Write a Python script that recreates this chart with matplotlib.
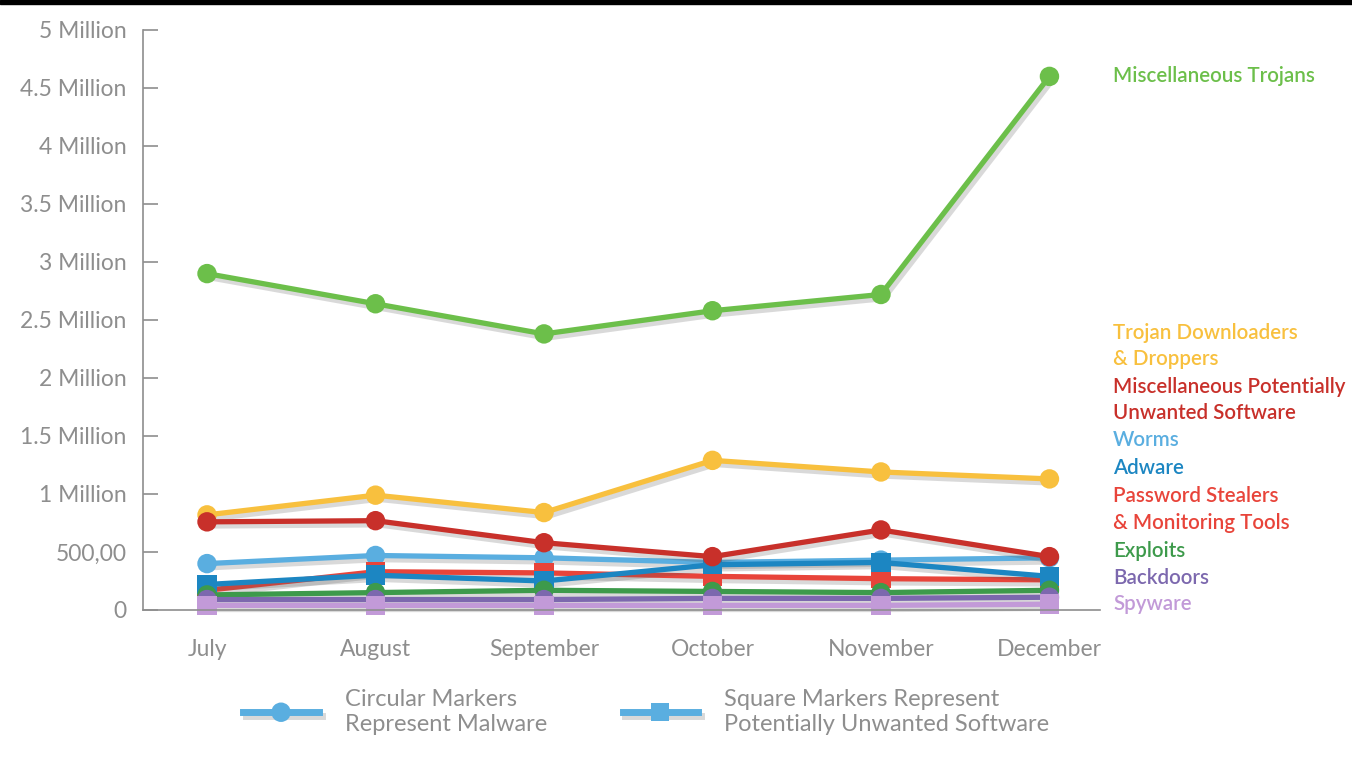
import matplotlib.pyplot as plt
import matplotlib.patheffects as pe
from matplotlib.lines import Line2D
from matplotlib.ticker import FixedLocator

months = ["July", "August", "September", "October", "November", "December"]

# values in millions
misc_trojans = [2.90, 2.64, 2.38, 2.58, 2.72, 4.60]
trojan_downloaders = [0.82, 0.99, 0.84, 1.29, 1.19, 1.13]
misc_pus = [0.76, 0.77, 0.58, 0.46, 0.69, 0.46]
worms = [0.40, 0.47, 0.45, 0.41, 0.43, 0.45]
adware = [0.22, 0.30, 0.25, 0.39, 0.41, 0.29]
password_stealers = [0.17, 0.33, 0.32, 0.29, 0.27, 0.26]
exploits = [0.13, 0.15, 0.17, 0.16, 0.15, 0.17]
backdoors = [0.09, 0.09, 0.09, 0.10, 0.10, 0.11]
spyware = [0.04, 0.04, 0.04, 0.04, 0.04, 0.05]

y_ticks = [0, 0.5, 1, 1.5, 2, 2.5, 3, 3.5, 4, 4.5, 5]
y_tick_labels = ["0", "500,00", "1 Million", "1.5 Million", "2 Million", "2.5 Million",
                 "3 Million", "3.5 Million", "4 Million", "4.5 Million", "5 Million"]

# (label, values, colour, marker) drawn in this order
series = [
    ("Worms", worms, "#5aaee0", "o"),
    ("Password Stealers", password_stealers, "#e8443a", "s"),
    ("Adware", adware, "#1c86c2", "s"),
    ("Exploits", exploits, "#3d9a4b", "o"),
    ("Backdoors", backdoors, "#7c68ae", "o"),
    ("Trojan Downloaders", trojan_downloaders, "#f8c03e", "o"),
    ("Miscellaneous PUS", misc_pus, "#c8302a", "o"),
    ("Spyware", spyware, "#c29ad8", "s"),
    ("Miscellaneous Trojans", misc_trojans, "#6cbf4a", "o"),
]

grey = "#8e8e8e"
plt.rcParams['font.family'] = ['Lato', 'DejaVu Sans']

fig = plt.figure(figsize=(13.52, 7.59), dpi=100)
fig.patch.set_facecolor("white")
ax = fig.add_axes([143 / 1352, 1 - 610 / 759, (1100 - 143) / 1352, 580 / 759])

x = list(range(len(months)))
shadow = [pe.SimpleLineShadow(offset=(2, -3), shadow_color="#555555", alpha=0.22), pe.Normal()]
for label, vals, color, marker in series:
    ax.plot(x, vals, color=color, lw=3.8, marker=marker, markersize=14,
            markeredgewidth=0, clip_on=False, path_effects=shadow)

ax.set_xlim(-0.38, 5.30)
ax.set_ylim(0, 5)
ax.set_xticks(x)
ax.set_xticklabels(months)
ax.yaxis.set_major_locator(FixedLocator(y_ticks))
ax.set_yticklabels(y_tick_labels)
ax.tick_params(axis="x", length=0, pad=21, labelsize=16.5, labelcolor=grey)
ax.tick_params(axis="y", direction="in", length=11, width=1.2, color=grey,
               pad=12, labelsize=16.5, labelcolor=grey)
for side in ["top", "right"]:
    ax.spines[side].set_visible(False)
ax.spines["left"].set_color(grey)
ax.spines["left"].set_linewidth(1.2)
ax.spines["bottom"].set_color(grey)
ax.spines["bottom"].set_linewidth(1.2)

# right-hand series labels
label_rows = [
    ("Miscellaneous Trojans", "#6cbf4a", 76),
    ("Trojan Downloaders", "#f8c03e", 333),
    ("& Droppers", "#f8c03e", 359),
    ("Miscellaneous Potentially", "#c8302a", 387),
    ("Unwanted Software", "#c8302a", 413),
    ("Worms", "#5aaee0", 440),
    ("Adware", "#1c86c2", 468),
    ("Password Stealers", "#e8443a", 496),
    ("& Monitoring Tools", "#e8443a", 523),
    ("Exploits", "#3d9a4b", 551),
    ("Backdoors", "#7c68ae", 578),
    ("Spyware", "#c29ad8", 604),
]
for txt, color, py in label_rows:
    fig.text(1113 / 1352, 1 - py / 759, txt, color=color, fontsize=14.8,
             fontweight="semibold", va="center", ha="left")

# marker key at bottom
handles = [
    Line2D([], [], color="#5aaee0", lw=5, marker="o", markersize=14, markeredgewidth=0,
           path_effects=shadow),
    Line2D([], [], color="#5aaee0", lw=5, marker="s", markersize=13, markeredgewidth=0,
           path_effects=shadow),
]
fig.legend(handles, ["Circular Markers\nRepresent Malware",
                     "Square Markers Represent\nPotentially Unwanted Software"],
           loc="center left", bbox_to_anchor=(222 / 1352, 1 - 712 / 759), ncol=2,
           frameon=False, handlelength=3.2, handletextpad=1.1, columnspacing=3.2,
           labelcolor=grey, fontsize=17, labelspacing=0.1)

# thin black band across the top
fig.patches.append(plt.Rectangle((0, 1 - 4 / 759), 1, 4 / 759, transform=fig.transFigure,
                                 color="black", zorder=10))

fig.savefig("out.png", dpi=100)
